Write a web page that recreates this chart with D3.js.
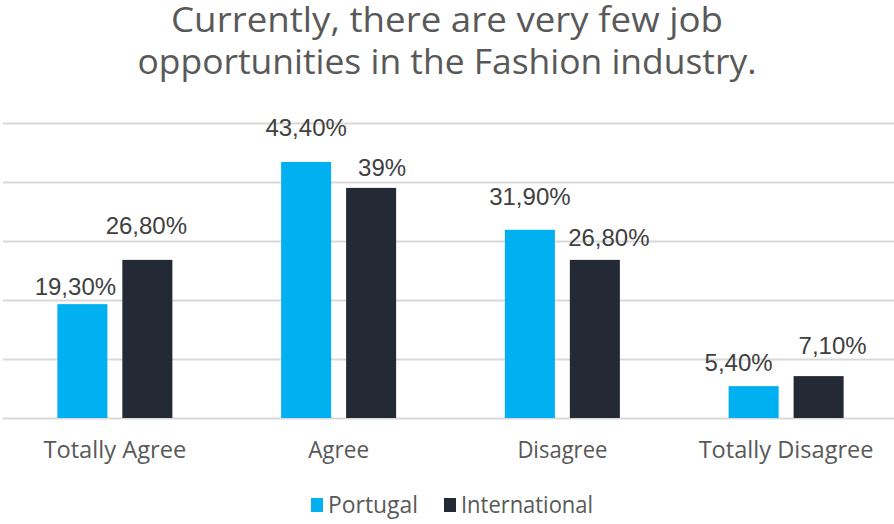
<!DOCTYPE html>
<html>
<head>
<meta charset="utf-8">
<script src="https://cdn.jsdelivr.net/npm/d3@7"></script>
<style>
  body { margin: 0; background: #fff; }
  svg { display: block; }
</style>
</head>
<body>
<div id="chart"></div>
<script>
// values (percent)
const categories = ["Totally Agree", "Agree", "Disagree", "Totally Disagree"];
const seriesNames = ["Portugal", "International"];
const portugal = [19.3, 43.4, 31.9, 5.4];
const international = [26.8, 39, 26.8, 7.1];
const labelPortugal = ["19,30%", "43,40%", "31,90%", "5,40%"];
const labelInternational = ["26,80%", "39%", "26,80%", "7,10%"];
const titleLines = ["Currently, there are very few job", "opportunities in the Fashion industry."];

// hand-placed label nudges, like the original (dx, lift above bar)
const labelNudge = [
  [[-7, 9], [0, 26], [0, 25], [-15, 15]],
  [[-1, 26], [11, 12], [14, 14], [14, 22]]
];

const width = 894, height = 524;
const colors = ["#00b0f0", "#232a35"];
const font = "Open Sans, sans-serif";

const svg = d3.select("#chart")
  .append("svg")
  .attr("width", width)
  .attr("height", height)
  .attr("viewBox", [0, 0, width, height]);

let x = d3.scaleBand()
  .domain(categories)
  .range([3, 898]);

let x1 = d3.scaleBand()
  .domain(seriesNames)
  .range([x.bandwidth() / 2 - 57.5, x.bandwidth() / 2 + 57.5])
  .paddingInner(0.23);

let y = d3.scaleLinear()
  .domain([0, 50])
  .range([418, 123]);

// gridlines
svg.append("g")
  .attr("transform", "translate(3,0)")
  .call(d3.axisLeft(y).ticks(5).tickSize(-width).tickFormat(""))
  .call(g => g.select(".domain").remove())
  .call(g => g.selectAll("line").attr("stroke", "#d9d9d9").attr("stroke-width", 2));

const series = [portugal, international];
const labels = [labelPortugal, labelInternational];

series.forEach((values, s) => {
  let g = svg.append("g");
  g.selectAll("rect")
    .data(values)
    .join("rect")
    .attr("x", (d, i) => x(categories[i]) + x1(seriesNames[s]))
    .attr("y", d => y(d))
    .attr("width", x1.bandwidth())
    .attr("height", d => y(0) - y(d))
    .attr("fill", colors[s]);

  g.selectAll("text")
    .data(values)
    .join("text")
    .text((d, i) => labels[s][i])
    .attr("x", (d, i) => x(categories[i]) + x1(seriesNames[s]) + x1.bandwidth() / 2 + labelNudge[s][i][0])
    .attr("y", (d, i) => y(d) - labelNudge[s][i][1])
    .attr("text-anchor", "middle")
    .attr("font-family", "Liberation Sans, Arial, sans-serif")
    .attr("font-size", 24)
    .attr("fill", "#404040");
});

// category axis
const catWidths = [143, 61, 90, 175];
svg.append("g")
  .selectAll("text")
  .data(categories)
  .join("text")
  .text(d => d)
  .attr("x", d => x(d) + x.bandwidth() / 2)
  .attr("y", 458)
  .attr("text-anchor", "middle")
  .attr("font-family", font)
  .attr("font-size", 24)
  .attr("textLength", (d, i) => catWidths[i])
  .attr("lengthAdjust", "spacingAndGlyphs")
  .attr("fill", "#595959");

// title
const titleWidths = [552, 619];
svg.append("g")
  .selectAll("text")
  .data(titleLines)
  .join("text")
  .text(d => d)
  .attr("x", width / 2)
  .attr("y", (d, i) => 32 + i * 42)
  .attr("text-anchor", "middle")
  .attr("font-family", font)
  .attr("font-size", 34)
  .attr("textLength", (d, i) => titleWidths[i])
  .attr("lengthAdjust", "spacingAndGlyphs")
  .attr("fill", "#595959");

// legend
const legendX = [311, 444];
const legendWidths = [90, 132];
let legend = svg.append("g");
seriesNames.forEach((name, i) => {
  legend.append("rect")
    .attr("x", legendX[i])
    .attr("y", 498)
    .attr("width", 12)
    .attr("height", 14)
    .attr("fill", colors[i]);
  legend.append("text")
    .text(name)
    .attr("x", legendX[i] + 17)
    .attr("y", 513)
    .attr("font-family", font)
    .attr("font-size", 24)
    .attr("textLength", legendWidths[i])
    .attr("lengthAdjust", "spacingAndGlyphs")
    .attr("fill", "#595959");
});
</script>
</body>
</html>
